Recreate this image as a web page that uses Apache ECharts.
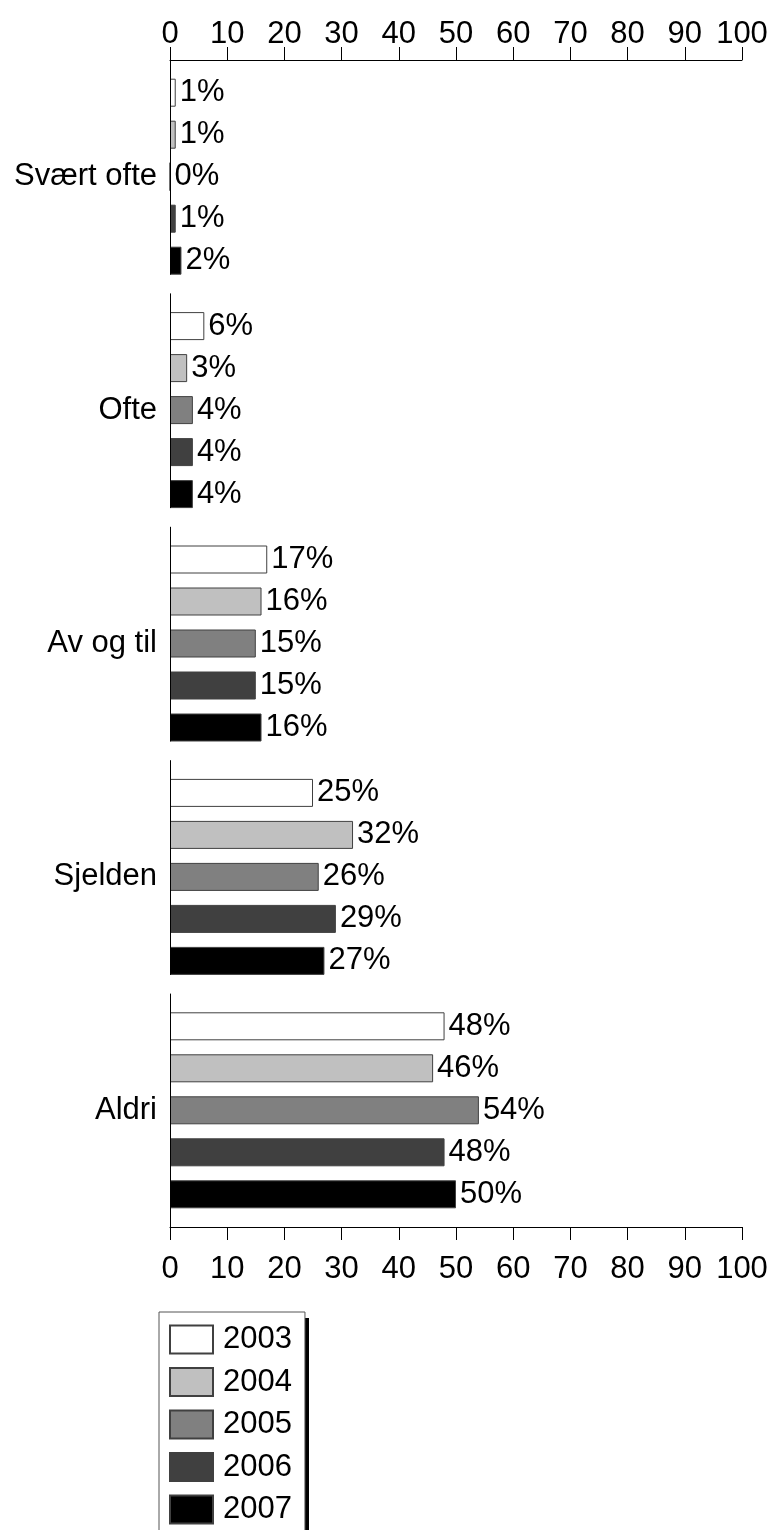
<!DOCTYPE html>
<html>
<head>
<meta charset="utf-8">
<script src="https://cdn.jsdelivr.net/npm/echarts@6/dist/echarts.min.js"></script>
<style>
html, body { margin: 0; padding: 0; background: #fff; }
#chart { width: 772px; height: 1530px; }
</style>
</head>
<body>
<div id="chart"></div>
<script>
// categories top to bottom
var categories = ['Svært ofte', 'Ofte', 'Av og til', 'Sjelden', 'Aldri'];
var years = ['2003', '2004', '2005', '2006', '2007'];
// percent per year
var v2003 = [1, 6, 17, 25, 48];
var v2004 = [1, 3, 16, 32, 46];
var v2005 = [0, 4, 15, 26, 54];
var v2006 = [1, 4, 15, 29, 48];
var v2007 = [2, 4, 16, 27, 50];
var values = [v2003, v2004, v2005, v2006, v2007];
var colors = ['#ffffff', '#c0c0c0', '#808080', '#404040', '#000000'];

var font = '"Liberation Sans", Arial, sans-serif';
var gridTop = 60, gridBottom = 303, gridLeft = 170, gridRight = 30;
var barW = 28, barGapPx = 14;
var legLeft = 159, legTop = 1312;

var myChart = echarts.init(document.getElementById('chart'));

function xAxisOpt(pos, margin) {
    return {
        type: 'value',
        position: pos,
        min: 0,
        max: 100,
        interval: 10,
        splitLine: { show: false },
        axisLine: { show: true, lineStyle: { color: '#000', width: 1 } },
        axisTick: { show: true, inside: false, length: 13, lineStyle: { color: '#000' } },
        axisLabel: { color: '#000', fontSize: 31, fontFamily: font, margin: margin }
    };
}

var series = years.map(function (y, i) {
    return {
        name: y,
        type: 'bar',
        barWidth: barW,
        barGap: (barGapPx / barW * 100) + '%',
        data: values[i],
        itemStyle: { color: colors[i], borderColor: '#404040', borderWidth: 1 },
        label: {
            show: true,
            position: 'right',
            distance: 4,
            formatter: '{c}%',
            color: '#000',
            fontSize: 31,
            fontFamily: font
        }
    };
});

var option = {
    backgroundColor: '#fff',
    animation: false,
    grid: { left: gridLeft, right: gridRight, top: gridTop, bottom: gridBottom, containLabel: false },
    xAxis: [xAxisOpt('top', 10), xAxisOpt('bottom', 27)],
    yAxis: {
        type: 'category',
        inverse: true,
        data: categories,
        axisLine: { show: false },
        axisTick: { show: false },
        axisLabel: { color: '#000', fontSize: 31, fontFamily: font, margin: 13 }
    },
    legend: {
        orient: 'vertical',
        left: legLeft,
        top: legTop,
        height: 260,
        z: 5,
        data: years,
        icon: 'rect',
        itemWidth: 43,
        itemHeight: 28,
        itemGap: 11.5,
        padding: [12, 13, 12, 10],
        backgroundColor: '#fff',
        borderColor: '#555',
        borderWidth: 1,
        textStyle: { color: '#000', fontSize: 31, fontFamily: font, padding: [0, 0, 0, 5] }
    },
    series: series
};

myChart.setOption(option);

// broken y axis line: one segment per category band
var plotH = 1530 - gridTop - gridBottom;
var bandH = plotH / categories.length;
var groupH = years.length * barW + (years.length - 1) * barGapPx;
var pad = (bandH - groupH) / 2;
var x0 = Math.round(myChart.convertToPixel({ xAxisIndex: 0 }, 0)) + 0.5;
var graphics = categories.map(function (c, i) {
    var y0 = gridTop + i * bandH;
    var y1 = (i === categories.length - 1) ? gridTop + plotH : y0 + bandH - pad;
    return {
        type: 'line',
        shape: { x1: x0, y1: y0, x2: x0, y2: y1 },
        style: { stroke: '#000', lineWidth: 1 },
        z: 10
    };
});

// legend box shadow (black, offset right/down)
graphics.push({
    type: 'rect',
    shape: { x: legLeft + 4, y: legTop + 6, width: 146, height: 260 },
    style: { fill: '#000' },
    z: 1
});
myChart.setOption({ graphic: graphics });
</script>
</body>
</html>
